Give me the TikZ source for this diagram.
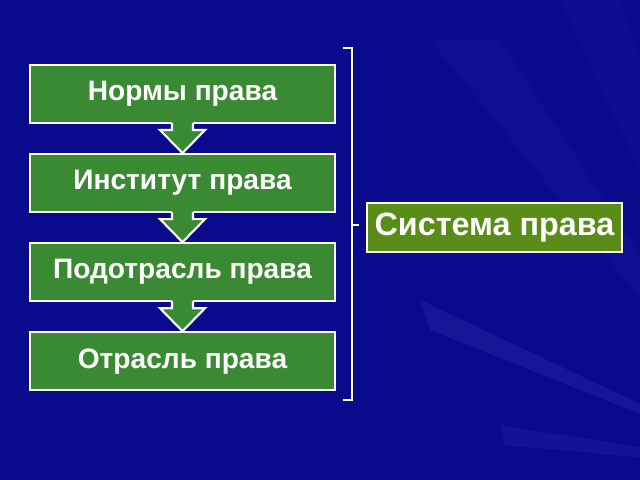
\documentclass[tikz,border=0pt]{standalone}
\usepackage{fontspec}
\setmainfont{Liberation Sans}
\usetikzlibrary{positioning}
\definecolor{bgblue}{RGB}{10,10,140}
\definecolor{raylight}{RGB}{120,140,255}
\definecolor{lawgreen}{RGB}{58,138,52}
\definecolor{sysgreen}{RGB}{90,140,24}
\begin{document}
\begin{tikzpicture}[
   x=0.02cm, y=-0.02cm,
   level/.style={draw=white, line width=1.2pt, fill=lawgreen, text=white,
                 minimum width=6.1cm, minimum height=1.16cm,
                 font=\fontsize{16}{18}\selectfont\bfseries},
   whole/.style={level, fill=sysgreen, minimum width=5.1cm, minimum height=0.98cm,
                 font=\fontsize{18.4}{20}\selectfont\bfseries},
   bracketline/.style={draw=white, line width=1.6pt}]

\useasboundingbox (0,0) rectangle (640,480);
\fill[bgblue] (0,0) rectangle (640,480);
\fill[raylight, opacity=0.10] (780,470) -- (420,300) -- (430,330) -- cycle;
\fill[raylight, opacity=0.08] (780,470) -- (500,425) -- (505,445) -- cycle;
\fill[raylight, opacity=0.05] (780,470) -- (430,40) -- (500,40) -- cycle;
\fill[raylight, opacity=0.04] (780,470) -- (560,0) -- (620,0) -- cycle;

\node[level] (norms) at (182.5,94) {Нормы права};
\node[level, below=0.58cm of norms] (inst) {Институт права};
\node[level, below=0.58cm of inst] (sub) {Подотрасль права};
\node[level, below=0.58cm of sub] (branch) {Отрасль права};

\foreach \a/\b in {norms/inst, inst/sub, sub/branch}{
   \fill[lawgreen] (\b.north) -- ++(-22.5,-23) -- ++(12,0) -- ++(0,-12)
        -- ++(21,0) -- ++(0,12) -- ++(12,0) -- cycle;
   \draw[white, line width=1.2pt, line join=miter] (\b.north) -- ++(-22.5,-23) -- ++(12,0) -- ++(0,-7);
   \draw[white, line width=1.2pt, line join=miter] (\b.north) -- ++(22.5,-23) -- ++(-12,0) -- ++(0,-7);
}

\node[whole] (system) at (494.5,227.5) {Система права};

\coordinate (brtop) at (343,48);
\coordinate (brbottom) at (343,400);
\coordinate (brmid) at (352,225);
\draw[bracketline] (brtop) -- ++(9,0) -- ++(0,352) -- (brbottom);
\draw[bracketline] (brmid) -- ([xshift=-0.14cm]system.west |- brmid);

\end{tikzpicture}
\end{document}
